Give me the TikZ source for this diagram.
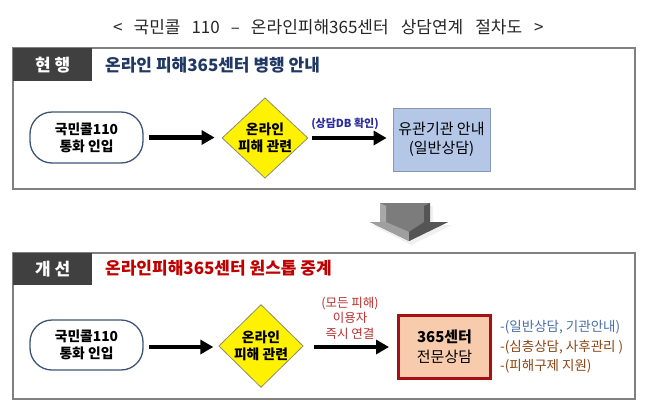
\documentclass[tikz,border=0pt]{standalone}
\usepackage{fontspec}
\setmainfont{Noto Sans CJK KR}
\usetikzlibrary{shapes.geometric,arrows.meta}
\definecolor{hdr}{HTML}{404040}
\definecolor{pborder}{HTML}{808080}
\definecolor{navy}{HTML}{1F3864}
\definecolor{redt}{HTML}{C00000}
\definecolor{rrborder}{HTML}{3E5675}
\definecolor{dmborder}{HTML}{8C8C70}
\definecolor{bluebox}{HTML}{B4C7E7}
\definecolor{blueboxb}{HTML}{8497B0}
\definecolor{salmon}{HTML}{F8CBAD}
\definecolor{darkred}{HTML}{A50F15}
\definecolor{lblblue}{HTML}{2B2B9E}
\definecolor{lblred}{HTML}{B8312F}
\definecolor{listblue}{HTML}{4A6FA5}
\definecolor{listbrown}{HTML}{8B4513}
\definecolor{gmid}{HTML}{7C7C7C}
\definecolor{glight}{HTML}{A8A8A8}
\definecolor{gdark}{HTML}{555555}
\tikzset{
  panel/.style={draw=pborder, line width=1.2pt},
  hdrbox/.style={fill=hdr, draw=none, text=white, font=\bfseries\fontsize{17}{19}\selectfont},
  hdrtitle/.style={anchor=west, font=\bfseries\fontsize{17}{19}\selectfont, inner sep=0pt},
  startbox/.style={draw=rrborder, line width=1.3pt, fill=white, rounded corners=22pt,
    minimum width=113pt, minimum height=51pt, align=center, inner sep=0pt,
    font=\bfseries\fontsize{13.8}{17}\selectfont},
  decision/.style={diamond, draw=dmborder, line width=0.8pt, fill=yellow,
    minimum width=86pt, minimum height=80pt, inner sep=0pt, align=center, aspect=1.07,
    font=\bfseries\fontsize{13.8}{17}\selectfont},
  flowarrow/.style={line width=4.5pt, -{Triangle[length=13pt,width=14pt]}},
  lbl/.style={inner sep=0pt, align=center},
}
\begin{document}
\begin{tikzpicture}[x=1pt,y=-1pt]
\useasboundingbox (0,0) rectangle (650,407);
\fill[white] (0,0) rectangle (650,407);
% title
\node[inner sep=0pt, anchor=west, text=black!85, font=\fontsize{17}{19}\selectfont] (title) at (113,27)
  {<\hspace{11pt}국민콜\hspace{11pt}110\hspace{11pt}–\hspace{11pt}온라인피해365센터\hspace{12pt}상담연계\hspace{12pt}절차도\hspace{12pt}>};

% panel 1
\draw[panel] (13,48) rectangle (635,189);
\node[hdrbox, minimum width=79pt, minimum height=33pt, anchor=north west] (h1) at (13,48) {현 행};
\node[hdrtitle, text=navy] (t1) at (105,65) {온라인 피해365센터 병행 안내};
\node[startbox] (a1) at (86.5,137.5) {국민콜110\\통화 인입};
\node[decision] (d1) at (265,138) {온라인\\피해 관련};
\node[draw=blueboxb, line width=0.8pt, fill=bluebox, minimum width=97pt, minimum height=63pt,
  align=center, inner sep=0pt, font=\fontsize{15}{19}\selectfont] (b1) at (441.5,139.5) {유관기관 안내\\(일반상담)};
\draw[flowarrow] ([xshift=5pt]a1.east) -- ([xshift=-7pt]d1.west |- a1.east);
\draw[flowarrow] ([xshift=4pt]d1.east |- 0,138) -- ([xshift=-6pt]b1.west |- 0,138);
\node[lbl, text=lblblue, font=\bfseries\fontsize{11}{13}\selectfont] (l1) at (345,124) {(상담DB 확인)};

% gray arrow
\coordinate (ga) at (409,241);
\fill[black!6] (383,206) -- (433,206) -- (433,225) -- (452,225) -- (411,245) -- (372,225) -- (383,225) -- cycle;
\fill[gmid] (380,203) rectangle (430,222);
\fill[glight] (380,203) -- (386,206) -- (386,222) -- (380,222) -- cycle;
\fill[gdark] (430,203) -- (424,206) -- (424,222) -- (430,222) -- cycle;
\fill[gmid] (370,222) -- (448,222) -- (ga) -- cycle;
\fill[glight!80!gmid] (370,222) -- (386,222) -- (409,232) -- (ga) -- cycle;
\fill[gdark] (448,222) -- (424,222) -- (409,232) -- (ga) -- cycle;

% panel 2
\draw[panel] (13,253) rectangle (635,399);
\node[hdrbox, minimum width=79pt, minimum height=32pt, anchor=north west] (h2) at (13,253) {개 선};
\node[hdrtitle, text=redt] (t2) at (105,268) {온라인피해365센터 원스톱 중계};
\node[startbox, minimum height=50pt] (a2) at (86.5,345) {국민콜110\\통화 인입};
\node[decision, minimum width=84pt, minimum height=82pt, aspect=1.02] (d2) at (261,346) {온라인\\피해 관련};
\node[draw=darkred, line width=3pt, fill=salmon, minimum width=92pt, minimum height=63pt,
  align=center, inner sep=0pt, font=\fontsize{15}{20}\selectfont] (c2) at (444.5,347) {\textbf{365센터}\\전문상담};
\draw[flowarrow] ([xshift=5pt]a2.east |- 0,347) -- ([xshift=-5pt]d2.west |- 0,347);
\draw[flowarrow] ([xshift=10pt]d2.east |- 0,347) -- ([xshift=-8pt]c2.west |- 0,347);
\node[lbl, text=lblred, font=\fontsize{12.5}{15.5}\selectfont] (l2) at (350,318) {(모든 피해)\\이용자\\즉시 연결};
\node[lbl, anchor=west, text=listblue, font=\fontsize{13.5}{16}\selectfont] (s1) at (500,327) {-(일반상담, 기관안내)};
\node[lbl, anchor=west, text=listbrown, font=\fontsize{13.5}{16}\selectfont] (s2) at (500,347) {-(심층상담, 사후관리 )};
\node[lbl, anchor=west, text=listbrown, font=\fontsize{13.5}{16}\selectfont] (s3) at (500,366) {-(피해구제 지원)};
\end{tikzpicture}
\end{document}
